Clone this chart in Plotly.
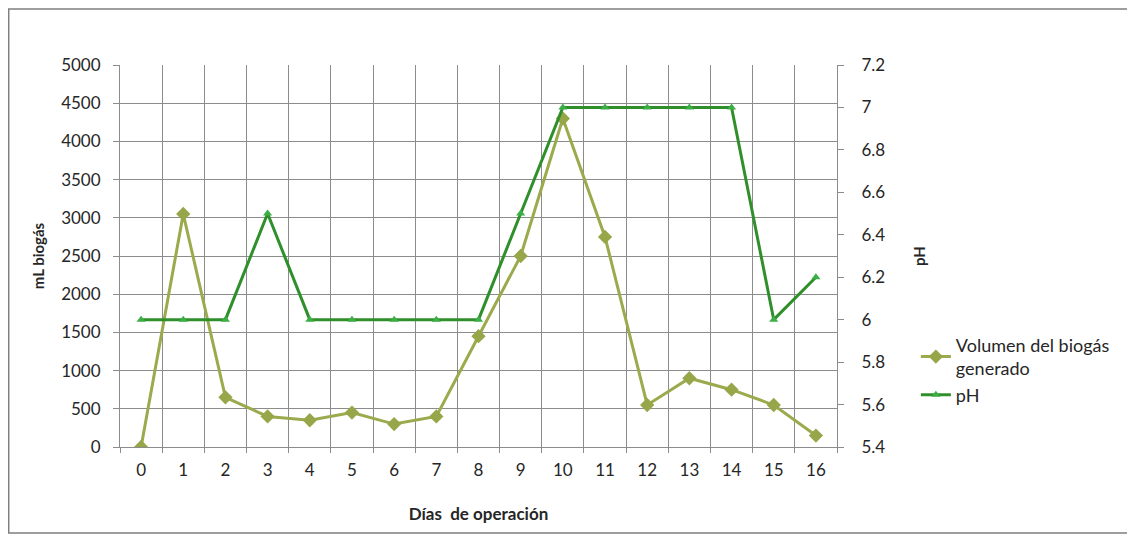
import plotly.graph_objects as go

dias = list(range(17))
volumen = [0, 3050, 650, 400, 350, 450, 300, 400, 1450, 2500, 4300, 2750, 550, 900, 750, 550, 150]
ph = [6, 6, 6, 6.5, 6, 6, 6, 6, 6, 6.5, 7, 7, 7, 7, 7, 6, 6.2]
ph_ticks = [5.4, 5.6, 5.8, 6, 6.2, 6.4, 6.6, 6.8, 7, 7.2]
ph_labels = ["5.4", "5.6", "5.8", "6", "6.2", "6.4", "6.6", "6.8", "7", "7.2"]

FONT = "Lato, 'Open Sans', sans-serif"
GRID = "#8c8c8c"

fig = go.Figure()
fig.add_trace(go.Scatter(
    x=dias, y=volumen, name="Volumen del biogás<br>generado",
    mode="lines+markers",
    line=dict(color="#9aaa4c", width=3),
    marker=dict(symbol="diamond", size=11, color="#98a64a"),
    yaxis="y"))
fig.add_trace(go.Scatter(
    x=dias, y=ph, name="pH",
    mode="lines+markers",
    line=dict(color="#2f8f2a", width=3),
    marker=dict(symbol="triangle-up", size=8, color="#3cae46"),
    yaxis="y2"))

bounds = [i - 0.5 for i in range(18)]

# page body has an 8px margin, so the figure is sized to fit the window
fig.update_layout(
    width=1127, height=528,
    margin=dict(l=112, r=298, t=57, b=89),
    paper_bgcolor="white", plot_bgcolor="white",
    font=dict(family=FONT, size=17, color="#262626"),
    xaxis=dict(
        range=[-0.5, 16.5], tickmode="array", tickvals=dias,
        ticktext=[str(d) for d in dias], showgrid=False, ticks="",
        showline=True, linecolor=GRID, linewidth=1, zeroline=False,
        automargin=False,
        minor=dict(tickvals=bounds, showgrid=True, gridcolor=GRID, gridwidth=1,
                   ticks="outside", ticklen=5, tickcolor=GRID),
        title=dict(text="<b>Días&nbsp; de operación</b>", standoff=28, font=dict(size=17)),
        ticklabelstandoff=8,
    ),
    yaxis=dict(
        range=[0, 5000], dtick=500, showgrid=True, gridcolor=GRID, gridwidth=1,
        ticks="outside", ticklen=6, tickcolor=GRID, showline=True, linecolor=GRID,
        zeroline=False, automargin=False, ticklabelstandoff=9,
        title=dict(text="<b>mL biogás</b>", standoff=12, font=dict(size=15)),
    ),
    yaxis2=dict(
        overlaying="y", side="right", range=[5.4, 7.2],
        tickmode="array", tickvals=ph_ticks, ticktext=ph_labels,
        showgrid=False, ticks="outside", ticklen=6, tickcolor=GRID,
        showline=True, linecolor=GRID, zeroline=False, automargin=False,
        ticklabelstandoff=14,
        title=dict(text="<b>pH</b>", standoff=30, font=dict(size=15)),
    ),
    legend=dict(x=1.11, y=0.315, xanchor="left", yanchor="top",
                bgcolor="rgba(0,0,0,0)", font=dict(size=18), tracegroupgap=0),
    showlegend=True,
)

fig.add_shape(type="rect", xref="paper", yref="paper",
              x0=-0.1552, x1=1.4073, y0=-0.2251, y1=1.1466,
              line=dict(color="#7f7f7f", width=1.5), fillcolor="rgba(0,0,0,0)")

fig.write_html("out.html")
